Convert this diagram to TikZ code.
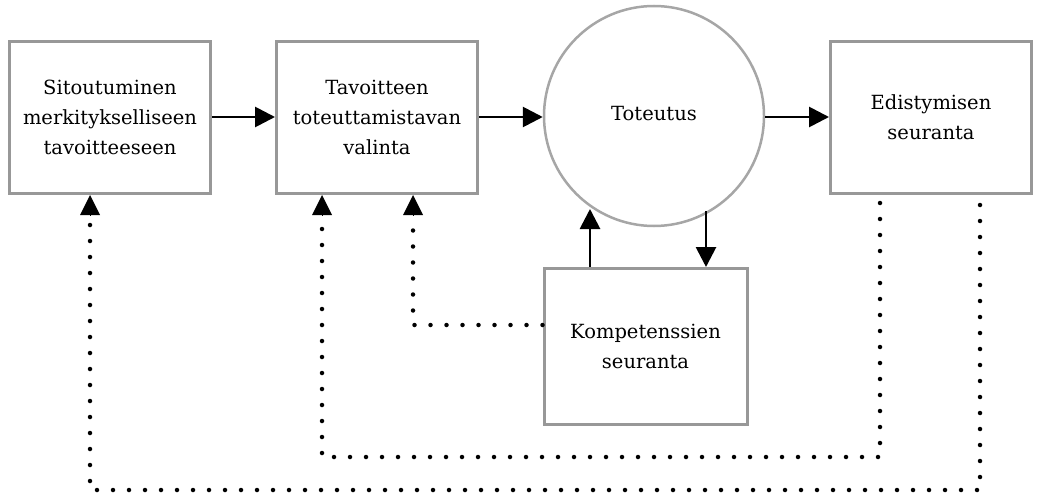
\documentclass[tikz,border=0pt]{standalone}
\usepackage{fontspec}
\setmainfont{DejaVu Serif}
\usetikzlibrary{arrows.meta}
\begin{document}
\begin{tikzpicture}[x=1pt,y=-1pt,
  boxnode/.style={draw=gray!85!black!70, line width=3pt, fill=white, minimum width=201pt, minimum height=152pt, align=center, inner sep=0pt, font=\fontsize{19.5}{30}\selectfont},
  circnode/.style={draw=gray!70, line width=2.5pt, fill=white, circle, minimum size=220pt, inner sep=0pt, font=\fontsize{19.5}{30}\selectfont},
  arr/.style={line width=2.8pt, -{Triangle[length=20pt,width=20pt]}},
  dotline/.style={line width=4.5pt, line cap=round, dash pattern=on 0pt off 16pt},
]
\useasboundingbox (0,0) rectangle (1040,497);
\node[boxnode] (b1) at (110,117.5) {Sitoutuminen\\merkitykselliseen\\tavoitteeseen};
\node[boxnode] (b2) at (377,117.5) {Tavoitteen\\toteuttamistavan\\valinta};
\node[circnode] (c) at (654,116) {\raisebox{6pt}{Toteutus}};
\node[boxnode] (b4) at (931,117.5) {Edistymisen\\seuranta};
\node[boxnode, minimum width=203pt, minimum height=156pt] (b5) at (645.5,346) {Kompetenssien\\seuranta};

\draw[arr] (b1.east |- 0,117) -- (b2.west |- 0,117);
\draw[arr] (b2.east |- 0,117) -- (c.west |- 0,117);
\draw[arr] (c.east |- 0,117) -- (b4.west |- 0,117);

\coordinate (up0) at (590,267);
\coordinate (up1) at (590,209);
\coordinate (dn1) at (706,211);
\coordinate (dn2) at (706,267);
\draw[arr] (up0) -- (up1);
\draw[arr] (dn1) -- (dn2);

\coordinate (k1) at (413,325);
\coordinate (k2) at (880,457);
\coordinate (k3) at (322,457);
\coordinate (k4) at (980,490);
\coordinate (k5) at (90,490);

\draw[dotline] (b5.west |- k1) -- (k1) -- (413,215);
\draw[dotline] (b4.south -| k2) ++(0,8) -- (k2) -- (k3) -- (322,215);
\draw[dotline] (b4.south -| k4) ++(0,10) -- (k4) -- (k5) -- (90,215);
\draw[arr,line width=0pt] (413,212) -- (b2.south -| 413,0);
\draw[arr,line width=0pt] (322,212) -- (b2.south -| 322,0);
\draw[arr,line width=0pt] (90,212) -- (b1.south -| 90,0);
\end{tikzpicture}
\end{document}
